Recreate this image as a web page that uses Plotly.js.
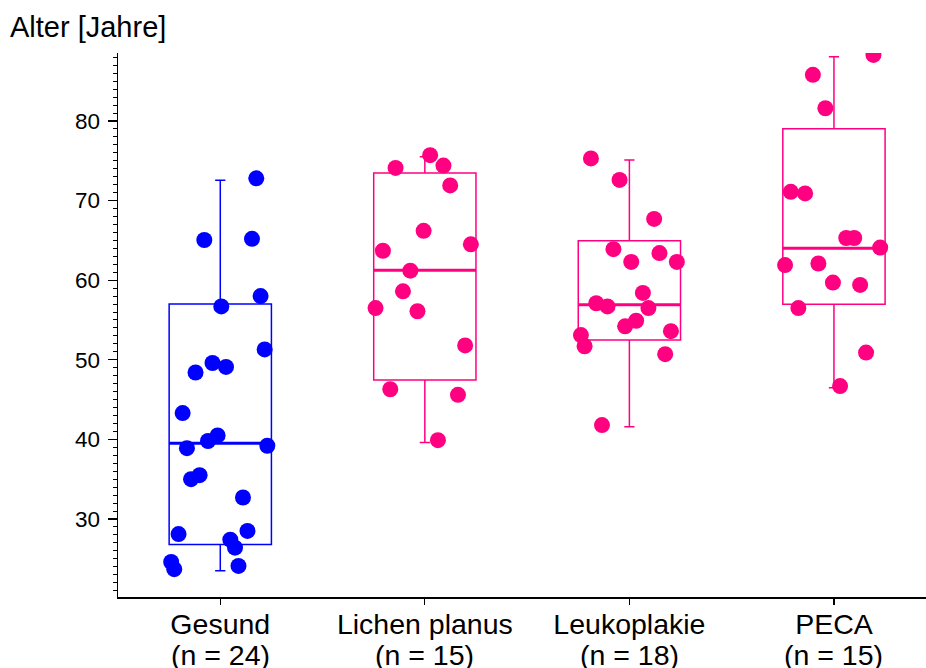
<!DOCTYPE html>
<html>
<head>
<meta charset="utf-8">
<script src="https://cdn.plot.ly/plotly-3.0.1.min.js"></script>
<style>html,body{margin:0;padding:0;background:#fff;}#chart{width:926px;height:668px;}</style>
</head>
<body>
<div id="chart"></div>
<script>
// ---- data ----
const categories = ['Gesund', 'Lichen planus', 'Leukoplakie', 'PECA'];
const counts = [24, 15, 18, 15];

const gesundAge = [72.8, 65.05, 65.2, 58.0, 56.7, 51.3, 49.6, 49.1, 48.4, 43.3, 40.5, 39.8, 39.2, 38.9, 35.5, 35.0, 32.7, 28.5, 28.1, 27.4, 26.4, 24.6, 24.1, 23.7];
const gesundJitter = [0.176, -0.078, 0.155, 0.197, 0.005, 0.217, -0.038, 0.028, -0.121, -0.184, -0.013, -0.060, 0.230, -0.163, -0.101, -0.143, 0.111, 0.133, -0.204, 0.049, 0.072, -0.240, 0.089, -0.225];

const lichenAge = [75.7, 74.4, 74.1, 71.9, 66.2, 64.5, 63.7, 61.2, 58.6, 56.5, 56.1, 51.8, 46.3, 45.6, 39.9];
const lichenJitter = [0.026, 0.091, -0.143, 0.124, -0.006, 0.225, -0.205, -0.071, -0.107, -0.241, -0.036, 0.197, -0.169, 0.162, 0.064];

const leukoAge = [75.3, 72.6, 67.7, 63.9, 63.4, 62.3, 62.3, 58.4, 57.1, 56.7, 56.5, 54.9, 54.2, 53.6, 53.1, 51.7, 50.7, 41.8];
const leukoJitter = [-0.188, -0.048, 0.121, -0.078, 0.147, 0.009, 0.232, 0.066, -0.162, -0.107, 0.093, 0.033, -0.021, 0.203, -0.237, -0.219, 0.175, -0.134];

const pecaAge = [88.3, 85.8, 81.6, 71.1, 70.9, 65.3, 65.3, 64.1, 62.1, 61.9, 59.7, 59.4, 56.5, 50.9, 46.7];
const pecaJitter = [0.193, -0.103, -0.042, -0.211, -0.141, 0.060, 0.099, 0.226, -0.076, -0.239, -0.005, 0.128, -0.174, 0.157, 0.030];

// box statistics
const q1 = [26.8, 47.46, 52.5, 56.97];
const median = [39.5, 61.24, 56.9, 64.0];
const q3 = [57.0, 73.47, 64.96, 79.03];
const lowerFence = [23.5, 39.6, 41.6, 46.5];
const upperFence = [72.55, 75.5, 75.1, 88.08];

// ---- styling ----
const BLUE = '#0000ff';
const PINK = '#ff0080';
const colors = [BLUE, PINK, PINK, PINK];
const BOXW = 0.5;
const FONT = 'Liberation Sans, Arial, Helvetica, sans-serif';
const PLOT_TOP = 53, PLOT_BOTTOM = 597;

const ages = [gesundAge, lichenAge, leukoAge, pecaAge];
const jitters = [gesundJitter, lichenJitter, leukoJitter, pecaJitter];

const traces = [];
categories.forEach((c, i) => {
  traces.push({
    type: 'box', x: [i], q1: [q1[i]], median: [median[i]], q3: [q3[i]],
    lowerfence: [lowerFence[i]], upperfence: [upperFence[i]],
    width: BOXW, whiskerwidth: 0.1, boxpoints: false,
    line: {color: colors[i], width: 1.5}, fillcolor: 'rgba(0,0,0,0)',
    showlegend: false, hoverinfo: 'skip'
  });
});
categories.forEach((c, i) => {
  traces.push({
    type: 'scatter', mode: 'lines',
    x: [i - BOXW / 2, i + BOXW / 2], y: [median[i], median[i]],
    line: {color: colors[i], width: 3}, showlegend: false, hoverinfo: 'skip'
  });
});
categories.forEach((c, i) => {
  traces.push({
    type: 'scatter', mode: 'markers',
    x: jitters[i].map(j => i + j), y: ages[i],
    marker: {color: colors[i], size: 16, line: {width: 0}},
    showlegend: false, hoverinfo: 'skip'
  });
});

const plotH = PLOT_BOTTOM - PLOT_TOP;
const annotations = categories.map((c, i) => ({
  x: i, xref: 'x', yref: 'paper', y: -(655 - PLOT_BOTTOM) / plotH,
  xanchor: 'center', yanchor: 'middle', showarrow: false,
  text: '(n = ' + counts[i] + ')',
  font: {family: FONT, size: 28.5, color: '#000'}
}));

const layout = {
  width: 926, height: 668,
  margin: {l: 118, r: 0, t: PLOT_TOP, b: 668 - PLOT_BOTTOM},
  paper_bgcolor: '#fff', plot_bgcolor: '#fff',
  font: {family: FONT, color: '#000'},
  showlegend: false,
  title: {
    text: 'Alter [Jahre]', font: {family: FONT, size: 29, color: '#000'},
    xref: 'container', yref: 'container', x: 10 / 926, xanchor: 'left',
    y: 1 - 27 / 668, yanchor: 'middle'
  },
  annotations: annotations,
  xaxis: {
    range: [-0.5, 3.45], showgrid: false, zeroline: false,
    showline: true, linecolor: '#000', linewidth: 1.5,
    ticks: 'outside', ticklen: 6, tickwidth: 1.2, tickcolor: '#000',
    tickmode: 'array', tickvals: categories.map((c, i) => i),
    ticktext: categories, ticklabelstandoff: -5,
    tickfont: {family: FONT, size: 28.5, color: '#000'},
    automargin: false, fixedrange: true
  },
  yaxis: {
    range: [20.2, 88.54], showgrid: false, zeroline: false,
    showline: true, linecolor: '#000', linewidth: 1.5,
    ticks: 'outside', ticklen: 9, tickwidth: 1.2, tickcolor: '#000',
    tickmode: 'linear', tick0: 0, dtick: 10, ticklabelstandoff: 3,
    minor: {ticks: 'outside', ticklen: 4, tickwidth: 1, tickcolor: '#000', dtick: 1, tick0: 0, showgrid: false},
    tickfont: {family: FONT, size: 22.5, color: '#000'},
    automargin: false, fixedrange: true
  }
};

Plotly.newPlot('chart', traces, layout, {staticPlot: true, displayModeBar: false});
</script>
</body>
</html>
